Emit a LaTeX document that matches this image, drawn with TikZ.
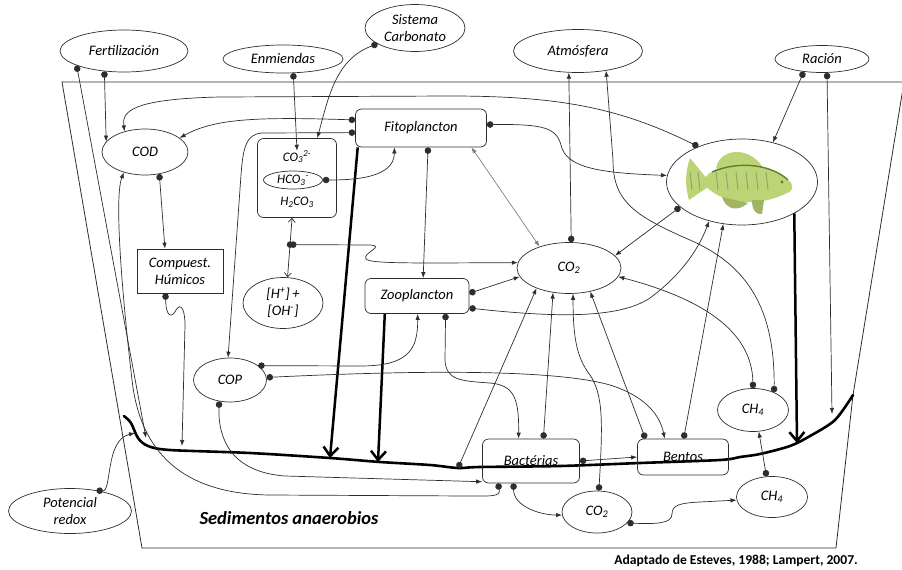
\documentclass[tikz,border=0pt]{standalone}
\usepackage{fontspec}
\setmainfont{Carlito}
\usetikzlibrary{arrows.meta,shapes.geometric}
\definecolor{linea}{RGB}{45,45,45}
\definecolor{pezclaro}{RGB}{188,212,118}
\definecolor{pezoscuro}{RGB}{92,128,48}
\tikzset{
  elipse/.style={ellipse, draw=linea, line width=0.7pt, inner sep=0pt, align=center, font=\itshape\fontsize{14.5}{17}\selectfont},
  caja/.style={rectangle, rounded corners=6pt, draw=linea, line width=0.7pt, inner sep=0pt, align=center, font=\itshape\fontsize{14.5}{17}\selectfont},
  texto/.style={inner sep=0pt, font=\itshape\fontsize{13}{14}\selectfont},
  flujo/.style={{Circle[length=6.5pt]}-{Latex[length=6pt,width=4.5pt]}, draw=linea, line width=0.7pt},
  doble/.style={{Latex[length=6pt,width=4.5pt]}-{Latex[length=6pt,width=4.5pt]}, draw=gray, line width=0.7pt},
  abierta/.style={{Straight Barb[length=4pt,width=7pt]}-{Straight Barb[length=4pt,width=7pt]}, draw=linea, line width=0.7pt},
  grueso/.style={-{Straight Barb[length=9pt,width=15pt]}, line width=2.5pt},
  sedimento/.style={line width=2.6pt, line join=round, line cap=round}
}
\begin{document}
\begin{tikzpicture}[x=1pt, y=-1pt]
\useasboundingbox (0,0) rectangle (902,570);
% Estanque:
\draw [linea, line width=0.8pt] (904,82) -- (62,82) -- (142,548) -- (836,548) -- (853,395) -- (904,82);
\draw [sedimento] plot [smooth, tension=0.5] coordinates {(124,416) (131,423) (138,438) (148,446) (170,450) (250,453) (330,458) (380,462) (430,465) (458,468) (480,467) (560,466) (640,463) (720,460) (740,457) (760,454) (790,446) (810,436) (835,420) (853,395)};
\coordinate (s0) at (135,433);
\coordinate (s1) at (146,438);
\coordinate (s2) at (182,446);
\coordinate (s3) at (330,458);
\coordinate (s4) at (378,462);
\coordinate (sd) at (458,468);
\coordinate (s5) at (797,443);
\coordinate (s6) at (832,414);
% Entradas:
\node [elipse, minimum width=128, minimum height=42] (fert) at (124,51) {Fertilización};
\node [elipse, minimum width=120, minimum height=28] (enm) at (283,59) {Enmiendas};
\node [elipse, minimum width=100, minimum height=47] (sist) at (415,28) {Sistema\\Carbonato};
\node [elipse, minimum width=129, minimum height=43] (atm) at (578,51) {Atmósfera};
\node [elipse, minimum width=94, minimum height=27] (rac) at (822,59) {Ración};
\node [elipse, minimum width=123, minimum height=45] (redox) at (70,511) {Potencial\\redox};
% Columna de agua:
\node [caja, minimum width=131, minimum height=38] (fito) at (421,128) {Fitoplancton};
\node [elipse, minimum width=86, minimum height=46] (cod) at (145,152) {COD};
\node [caja, minimum width=79, minimum height=79] (carb) at (297,178) {};
\node [texto] (co3) at (297,157) {CO\textsubscript{3}\textsuperscript{2-}};
\node [elipse, font=\itshape\fontsize{13}{14}\selectfont, minimum width=59, minimum height=18] (hco) at (293,180) {HCO\textsubscript{3}\textsuperscript{-}};
\node [texto] (hhco) at (297,202) {H\textsubscript{2}CO\textsubscript{3}};
\node [elipse, minimum width=80, minimum height=51] (hoh) at (283,303) {[H\textsuperscript{+}]\,+\\{[OH\textsuperscript{-}]}};
\node [rectangle, draw=linea, line width=0.7pt, inner sep=0pt, align=center, font=\itshape\fontsize{14.5}{17}\selectfont, minimum width=86, minimum height=44] (hum) at (180,271) {Compuest.\\Húmicos};
\node [caja, minimum width=104, minimum height=35] (zoo) at (417,296) {Zooplancton};
\node [elipse, minimum width=104, minimum height=51] (co2) at (569,268) {CO\textsubscript{2}};
\node [elipse, minimum width=151, minimum height=86] (pez) at (742,182) {};
\node [elipse, minimum width=73, minimum height=44] (cop) at (230,380) {COP};
\node [caja, minimum width=97, minimum height=44] (bac) at (531,461) {Bactérias};
\node [caja, minimum width=91, minimum height=36] (ben) at (683,457) {Bentos};
\node [elipse, minimum width=71, minimum height=43] (ch4a) at (753,410) {CH\textsubscript{4}};
\node [elipse, minimum width=71, minimum height=41] (ch4b) at (772,497) {CH\textsubscript{4}};
\node [elipse, minimum width=70, minimum height=42] (co2b) at (597,512) {CO\textsubscript{2}};
% Pez:
\fill [pezclaro] (708,180) -- (690,158) .. controls (685,172) and (685,187) .. (689,200) -- (708,187) -- cycle;
\fill [pezclaro] (716,168) .. controls (720,148) and (748,146) .. (762,166) -- cycle;
\fill [pezclaro] (702,182) .. controls (715,158) and (762,158) .. (788,180) .. controls (794,184) and (794,191) .. (787,193) .. controls (760,207) and (720,206) .. (702,182) -- cycle;
\foreach \x in {690,698,716,726,...,766} \draw [pezoscuro!70, line width=1pt] (\x,172) -- (\x+2,190);
\draw [pezoscuro, line width=1.4pt] (712,172) .. controls (740,160) and (772,165) .. (788,180);
\fill [pezclaro!85!black] (722,197) .. controls (726,210) and (738,212) .. (748,203) -- cycle;
\fill [pezclaro!85!black] (752,200) .. controls (752,210) and (756,215) .. (762,214) -- (764,200) -- cycle;
\fill [pezoscuro] (782,182) circle (1.7);
% Textos:
\node [font=\bfseries\itshape\fontsize{18.5}{20}\selectfont] (sed) at (289,518) {Sedimentos anaerobios};
\node [font=\bfseries\fontsize{13.6}{15}\selectfont] (fuente) at (736,561) {Adaptado de Esteves, 1988; Lampert, 2007.};
% Flujos gruesos:
\draw [grueso] (fito.197) -- (s3);
\draw [grueso] (zoo.209) -- (s4);
\draw [grueso] (pez.329) -- (s5);
% Entradas externas:
\draw [flujo] (fert.226) -- (cod.165);
\draw [flujo] (fert.197) -- (s1);
\draw [flujo] (enm.306) -- (co3.north);
\draw [flujo] (sist.203) to[out=200,in=75] (carb.63);
\draw [flujo] (rac.215) -- (pez.52);
\draw [flujo] (rac.290) -- (s6);
\draw [flujo] (redox.38) .. controls (112,492) and (105,440) .. (s0);
% Carbono organico:
\draw [flujo] (fito.173) .. controls (260,117) and (215,118) .. (cod.22);
\draw [flujo] (pez.141) .. controls (620,108) and (560,96) .. (450,96) -- (220,97) .. controls (130,99) and (122,112) .. (cod.135);
\draw [flujo] (fito.184) -- (262,133) .. controls (246,134) and (243,148) .. (241,175) -- (cop.95);
\draw [flujo] (cod.303) -- (hum.124);
\draw [flujo] (hum.237) .. controls (166,318) and (172,318) .. (176,310) .. controls (181,302) and (185,310) .. (185,325) -- (s2);
\draw [flujo] (bac.214) .. controls (501,497) and (490,496) .. (470,496) -- (270,495) .. controls (180,494) and (140,450) .. (132,380) .. controls (125,320) and (113,200) .. (cod.224);
\draw [flujo] (cop.243) .. controls (218,440) and (232,472) .. (285,476) -- (bac.203);
\draw [flujo] (cop.27) -- (360,366) .. controls (408,366) and (418,350) .. (zoo.272);
\draw [flujo] (cop.4) .. controls (400,371) and (550,368) .. (610,385) .. controls (645,396) and (660,415) .. (ben.135);
% Plancton y pez:
\draw [flujo] (fito.290) -- (zoo.71);
\draw [flujo] (hco.east) to[out=0,in=270] (fito.216);
\draw [flujo] (fito.3) .. controls (545,124) and (556,128) .. (561,145) .. controls (566,168) and (600,173) .. (pez.175);
\draw [doble] (co2.144) -- (fito.339);
\draw [flujo] (pez.202) -- (co2.15);
\draw [flujo] (zoo.3) -- (co2.190);
\draw [flujo] (zoo.347) .. controls (560,318) and (620,318) .. (650,298) .. controls (685,272) and (700,245) .. (pez.230);
\draw [flujo] (ben.88) -- (pez.246);
\draw [flujo] (zoo.328) -- (445,360) .. controls (446,380) and (460,381) .. (490,383) .. controls (515,385) and (519,400) .. (bac.119);
% CO2 y CH4:
\draw [abierta] (carb.263) -- (hoh.80) coordinate [pos=0.45] (ph);
\fill [linea] (ph) circle (3.3);
\draw [flujo] (ph) -- (370,245) .. controls (386,246) and (362,253) .. (366,259) .. controls (370,264) and (420,263) .. (co2.174);
\draw [flujo] (co2.85) -- (atm.247);
\draw [flujo] (ch4a.40) .. controls (775,300) and (740,262) .. (690,240) .. controls (632,215) and (613,200) .. (613,160) -- (atm.325);
\draw [flujo] (ch4a.north) .. controls (752,330) and (700,298) .. (co2.350);
\draw [flujo] (sd) -- (co2.212);
\draw [flujo] (bac.61) -- (co2.237);
\draw [flujo] (co2b.85) .. controls (603,420) and (603,395) .. (590,375) .. controls (576,357) and (573,335) .. (co2.279);
\draw [flujo] (ben.154) -- (co2.312);
\draw [flujo] (bac.east) -- (ben.west);
\draw [flujo] (bac.232) to[out=270,in=180] (co2b.185);
\draw [flujo] (co2b.340) .. controls (655,524) and (672,524) .. (672,514) .. controls (672,505) and (680,503) .. (700,502) -- (ch4b.185);
\draw [flujo] (ch4b.105) -- (ch4a.285);
\end{tikzpicture}
\end{document}
